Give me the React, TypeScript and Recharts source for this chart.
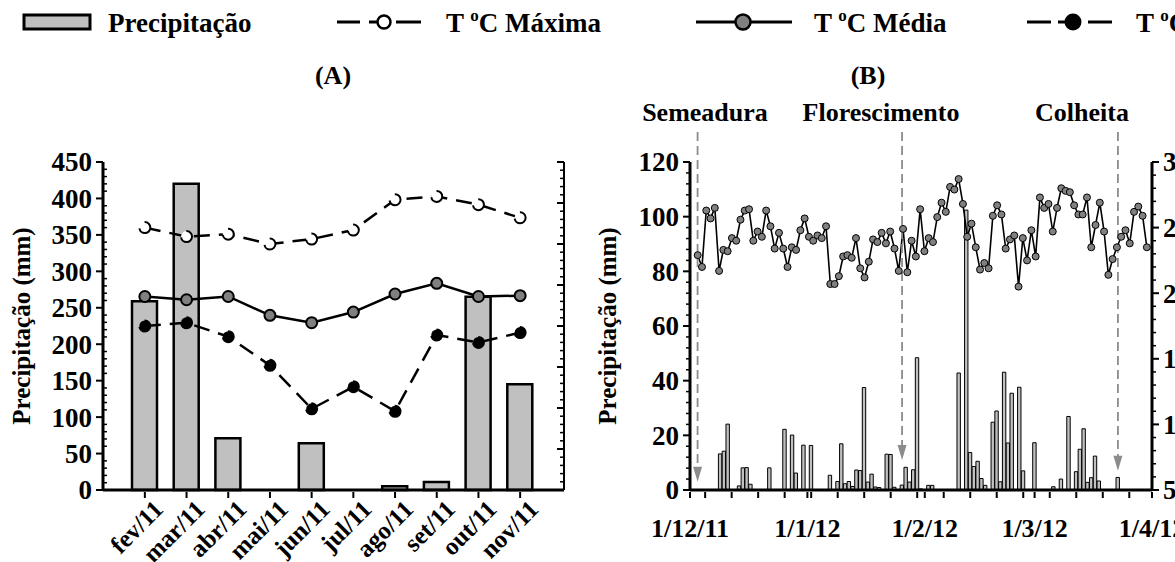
import React from 'react';
import { Bar, ComposedChart, Line, ReferenceLine, XAxis, YAxis } from 'recharts';

const FONT = '"Liberation Serif", "Times New Roman", serif';

// (A) dados mensais
const meses = ['fev/11', 'mar/11', 'abr/11', 'mai/11', 'jun/11', 'jul/11', 'ago/11', 'set/11', 'out/11', 'nov/11'];
const chuvaMensal = [259, 420, 71, 0, 64, 0, 5, 11, 265, 145];
const tMaxMensal = [32.0, 30.9, 31.2, 30.0, 30.6, 31.7, 35.4, 35.8, 34.8, 33.2];
const tMedMensal = [23.6, 23.2, 23.6, 21.3, 20.4, 21.7, 23.9, 25.2, 23.6, 23.7];
const tMinMensal = [20.0, 20.4, 18.7, 15.2, 9.9, 12.6, 9.6, 18.9, 18.0, 19.2];
const ticksChuvaA = [0, 50, 100, 150, 200, 250, 300, 350, 400, 450];

// (B) chuva diaria, dia 0 = 1/12/11
const diasRotulo = [0, 31, 62, 91, 122];
const rotulosDatas = ['1/12/11', '1/1/12', '1/2/12', '1/3/12', '1/4/12'];
const ticksChuvaB = [0, 20, 40, 60, 80, 100, 120];
const ticksTempB = [5, 10, 15, 20, 25, 30];

const diasChuva = [8, 9, 10, 13, 14, 15, 16, 21, 25, 27, 28, 30, 32, 37, 39, 40, 41, 42, 43, 44, 45, 46, 47, 48, 49, 50, 52, 53, 54, 56,
  57, 58, 59, 60, 61, 63, 64, 71, 73, 74, 75, 76, 77, 78, 80, 81, 82, 83, 84, 85, 87, 88, 91, 96, 98, 100, 102, 103, 104, 105,
  106, 107, 108, 113];
const chuvaDiaria = [13.2, 14.2, 24.1, 1.5, 8.1, 8.2, 2.1, 8.1, 22.2, 20.1, 6.2, 16.4, 16.3, 5.4, 3.1, 16.9, 2.3, 3.1, 1.3, 7.3,
  7.1, 37.5, 2.9, 5.8, 1.1, 0.9, 13.1, 13.0, 1.0, 1.8, 8.3, 2.9, 7.4, 48.4, 0.4, 1.7, 1.7, 42.8, 102.4, 13.7,
  8.6, 10.5, 4.2, 1.7, 24.8, 28.9, 3.0, 43.1, 17.2, 35.4, 37.6, 7.0, 17.3, 1.2, 4.0, 26.9, 6.7, 14.9, 22.4, 2.8,
  4.5, 12.4, 3.3, 4.6];

// temperatura media, serie no eixo secundario (pontos igualmente espacados)
const tMedDiaria = [22.9, 22.0, 26.3, 25.7, 26.5, 21.7, 23.3, 23.2, 24.2, 24.0,
  25.6, 26.3, 26.4, 24.0, 24.7, 24.3, 26.3, 25.1, 23.4, 24.6,
  23.4, 22.0, 23.5, 23.3, 24.8, 25.7, 24.3, 24.0, 24.4, 24.2,
  25.1, 20.7, 20.7, 21.3, 22.8, 22.9, 22.7, 24.2, 21.9, 21.2,
  22.4, 24.1, 23.9, 24.6, 23.8, 24.7, 23.4, 21.7, 24.9, 21.6,
  24.0, 22.8, 26.4, 23.2, 24.2, 23.9, 25.8, 26.9, 26.2, 28.1,
  27.9, 28.7, 26.8, 24.3, 25.3, 23.5, 21.8, 22.3, 21.9, 25.9,
  26.7, 26.0, 23.4, 24.1, 24.4, 20.5, 24.2, 22.5, 24.8, 22.8,
  27.3, 26.5, 26.8, 24.7, 26.5, 28.0, 27.8, 27.7, 26.7, 26.0,
  26.0, 27.3, 23.5, 25.2, 26.9, 24.7, 21.4, 22.6, 23.5, 24.3,
  24.8, 23.8, 26.2, 26.6, 25.9, 23.5];

const eventos = ['Semeadura', 'Florescimento', 'Colheita'];
const diasEventos = [2, 56, 113];
const pontaSeta = [3, 11, 7]; // mm onde a seta termina

const range = (a: number, b: number, s: number) => {
  const out: number[] = [];
  for (let v = a; v <= b + 1e-9; v += s) out.push(v);
  return out;
};

const txt = { fontFamily: FONT, fontWeight: 700, fill: '#000' } as const;

function TickY(props: any) {
  const { x, y, payload, majors, side, label, inner } = props;
  const v = payload.value;
  const major = majors.includes(v);
  const dir = side === 'left' ? -1 : 1;
  const len = major ? 7 : 4;
  const d = major ? dir : inner ? -dir : dir;
  return (
    <g>
      <line x1={x} x2={x + d * len} y1={y} y2={y} stroke="#000" strokeWidth={major ? 2 : 1.5} />
      {major && label && (
        <text x={x + dir * 11} y={y} dy="0.35em" textAnchor={side === 'left' ? 'end' : 'start'} fontSize={27} {...txt}>
          {v}
        </text>
      )}
    </g>
  );
}

function TickMes(props: any) {
  const { x, y, payload } = props;
  return (
    <g>
      <line x1={x} x2={x} y1={y} y2={y + 6} stroke="#000" strokeWidth={2} />
      <text transform={`translate(${x + 7},${y + 6}) rotate(-45)`} dy="0.72em" textAnchor="end" fontSize={25} {...txt}>
        {payload.value}
      </text>
    </g>
  );
}

function TickDia(props: any) {
  const { x, y, payload } = props;
  const i = diasRotulo.indexOf(payload.value);
  return (
    <g>
      <line x1={x} x2={x} y1={y} y2={y + 6} stroke="#000" strokeWidth={2} />
      {i >= 0 && (
        <text x={x} y={y + 45} textAnchor="middle" fontSize={26} {...txt}>
          {rotulosDatas[i]}
        </text>
      )}
    </g>
  );
}

function SetaTracejada(props: any) {
  const { x1, y1, x2, y2 } = props;
  return (
    <g>
      <line x1={x1} y1={y1} x2={x2} y2={y2 - 12} stroke="#8c8c8c" strokeWidth={1.8} strokeDasharray="9 5" />
      <path d={`M${x2 - 4.5},${y2 - 15} L${x2 + 4.5},${y2 - 15} L${x2},${y2} Z`} fill="#8c8c8c" />
    </g>
  );
}

const tituloY: React.CSSProperties = {
  position: 'absolute',
  transform: 'translate(-50%, -50%) rotate(-90deg)',
  whiteSpace: 'nowrap',
  fontSize: 25,
};

export default function App() {
  const dadosA = meses.map((mes, i) => ({
    mes,
    chuva: chuvaMensal[i],
    max: tMaxMensal[i],
    med: tMedMensal[i],
    min: tMinMensal[i],
  }));

  const dadosB: { dia: number; chuva: number | null }[] = [];
  for (let dia = 0; dia < 122; dia++) dadosB.push({ dia, chuva: null });
  diasChuva.forEach((d, i) => (dadosB[d].chuva = chuvaDiaria[i]));

  const serieTemp = tMedDiaria.map((temp, n) => ({ n, temp }));

  const semanas = range(4, 116, 7);
  const ticksDias = [...diasRotulo, ...semanas].sort((a, b) => a - b);

  return (
    <div
      style={{
        position: 'absolute',
        left: 0,
        top: 0,
        width: 1175,
        height: 562,
        overflow: 'hidden',
        background: '#fff',
        fontFamily: FONT,
        fontWeight: 700,
      }}
    >
      {/* legenda */}
      <svg width={1175} height={60} style={{ position: 'absolute', left: 0, top: 0 }}>
        <rect x={24} y={15} width={66} height={14} fill="#c0c0c0" stroke="#000" strokeWidth={3} />
        <text x={108} y={32} fontSize={27} {...txt}>Precipitação</text>

        <line x1={337} x2={360} y1={22} y2={22} stroke="#000" strokeWidth={3} />
        <line x1={369} x2={377} y1={22} y2={22} stroke="#000" strokeWidth={3} />
        <line x1={396} x2={421} y1={22} y2={22} stroke="#000" strokeWidth={3} />
        <circle cx={384} cy={22} r={6.5} fill="#fff" stroke="#000" strokeWidth={2.5} />
        <text x={446} y={32} fontSize={27} {...txt}>
          {'T '}<tspan fontSize={17} dy={-11}>o</tspan><tspan dy={11}>C Máxima</tspan>
        </text>

        <line x1={696} x2={792} y1={22} y2={22} stroke="#000" strokeWidth={3} />
        <circle cx={743} cy={22} r={7.5} fill="#808080" stroke="#000" strokeWidth={2.5} />
        <text x={814} y={32} fontSize={27} {...txt}>
          {'T '}<tspan fontSize={17} dy={-11}>o</tspan><tspan dy={11}>C Média</tspan>
        </text>

        <line x1={1027} x2={1051} y1={22} y2={22} stroke="#000" strokeWidth={3} />
        <line x1={1058} x2={1066} y1={22} y2={22} stroke="#000" strokeWidth={3} />
        <line x1={1088} x2={1112} y1={22} y2={22} stroke="#000" strokeWidth={3} />
        <circle cx={1073} cy={22} r={7.5} fill="#000" stroke="#000" strokeWidth={2} />
        <text x={1136} y={32} fontSize={27} {...txt}>
          {'T '}<tspan fontSize={17} dy={-11}>o</tspan><tspan dy={11}>C Mínima</tspan>
        </text>
      </svg>

      <div style={{ position: 'absolute', left: 333, top: 76, transform: 'translate(-50%, -50%)', fontSize: 26 }}>(A)</div>
      <div style={{ position: 'absolute', left: 868, top: 76, transform: 'translate(-50%, -50%)', fontSize: 26 }}>(B)</div>

      {/* (A) */}
      <div style={{ position: 'absolute', left: 0, top: 0 }}>
        <ComposedChart width={600} height={562} data={dadosA} margin={{ top: 162, right: 26, bottom: 0, left: 43 }}>
          <XAxis
            dataKey="mes"
            height={72}
            interval={0}
            padding={{ left: 21, right: 23 }}
            tickSize={0}
            tickLine={false}
            tick={(p: any) => <TickMes {...p} />}
            axisLine={{ stroke: '#000', strokeWidth: 3 }}
          />
          <YAxis
            yAxisId="p"
            domain={[0, 450]}
            ticks={range(0, 450, 10)}
            interval={0}
            width={60}
            tickSize={0}
            tickMargin={0}
            tickLine={false}
            tick={(p: any) => <TickY {...p} majors={ticksChuvaA} side="left" label inner />}
            axisLine={{ stroke: '#000', strokeWidth: 3 }}
          />
          <YAxis
            yAxisId="t"
            orientation="right"
            domain={[0, 40]}
            ticks={range(0, 40, 1)}
            interval={0}
            width={10}
            tickSize={0}
            tickMargin={0}
            tickLine={false}
            tick={(p: any) => <TickY {...p} majors={range(0, 40, 5)} side="left" label={false} />}
            axisLine={{ stroke: '#000', strokeWidth: 2 }}
          />
          <Bar yAxisId="p" dataKey="chuva" barSize={25} fill="#c0c0c0" stroke="#000" strokeWidth={2.5} isAnimationActive={false} />
          <Line
            yAxisId="t"
            dataKey="max"
            stroke="#000"
            strokeWidth={2.5}
            strokeDasharray="16 9"
            dot={{ r: 5.5, fill: '#fff', stroke: '#000', strokeWidth: 2 }}
            isAnimationActive={false}
          />
          <Line
            yAxisId="t"
            dataKey="med"
            stroke="#000"
            strokeWidth={2.5}
            dot={{ r: 5.5, fill: '#808080', stroke: '#000', strokeWidth: 2 }}
            isAnimationActive={false}
          />
          <Line
            yAxisId="t"
            dataKey="min"
            stroke="#000"
            strokeWidth={2.5}
            strokeDasharray="16 9"
            dot={{ r: 5.5, fill: '#000', stroke: '#000', strokeWidth: 2 }}
            isAnimationActive={false}
          />
        </ComposedChart>
      </div>
      <div style={{ ...tituloY, left: 22, top: 326 }}>Precipitação (mm)</div>

      {/* (B) */}
      <div style={{ position: 'absolute', left: 600, top: 0 }}>
        <ComposedChart width={620} height={562} data={dadosB} margin={{ top: 162, right: 18, bottom: 0, left: 30 }}>
          <XAxis
            type="number"
            dataKey="dia"
            domain={[0, 122]}
            ticks={ticksDias}
            interval={0}
            height={72}
            tickSize={0}
            tickLine={false}
            tick={(p: any) => <TickDia {...p} />}
            axisLine={{ stroke: '#000', strokeWidth: 3 }}
          />
          <XAxis xAxisId="seq" type="number" dataKey="n" domain={[-1.8, 106.2]} allowDataOverflow hide />
          <YAxis
            yAxisId="p"
            domain={[0, 120]}
            ticks={range(0, 120, 4)}
            interval={0}
            width={60}
            tickSize={0}
            tickMargin={0}
            tickLine={false}
            tick={(p: any) => <TickY {...p} majors={ticksChuvaB} side="left" label />}
            axisLine={{ stroke: '#000', strokeWidth: 3 }}
          />
          <YAxis
            yAxisId="t"
            orientation="right"
            domain={[5, 30]}
            ticks={range(5, 30, 1)}
            interval={0}
            width={50}
            tickSize={0}
            tickMargin={0}
            tickLine={false}
            tick={(p: any) => <TickY {...p} majors={ticksTempB} side="right" label />}
            axisLine={{ stroke: '#000', strokeWidth: 3 }}
          />
          <Bar yAxisId="p" dataKey="chuva" barSize={3.4} fill="#c0c0c0" stroke="#000" strokeWidth={1} isAnimationActive={false} />
          <Line
            data={serieTemp}
            xAxisId="seq"
            yAxisId="t"
            dataKey="temp"
            stroke="#000"
            strokeWidth={1.6}
            dot={{ r: 3.5, fill: '#808080', stroke: '#000', strokeWidth: 1 }}
            isAnimationActive={false}
          />
          {eventos.map((nome, i) => (
            <ReferenceLine
              key={nome}
              yAxisId="p"
              ifOverflow="visible"
              segment={[
                { x: diasEventos[i], y: 131 },
                { x: diasEventos[i], y: pontaSeta[i] },
              ]}
              shape={(p: any) => <SetaTracejada {...p} />}
            />
          ))}
        </ComposedChart>
      </div>
      <div style={{ ...tituloY, left: 608, top: 326 }}>Precipitação (mm)</div>

      <div style={{ position: 'absolute', left: 705, top: 113, transform: 'translate(-50%, -50%)', fontSize: 26, whiteSpace: 'nowrap' }}>Semeadura</div>
      <div style={{ position: 'absolute', left: 881, top: 113, transform: 'translate(-50%, -50%)', fontSize: 26, whiteSpace: 'nowrap' }}>Florescimento</div>
      <div style={{ position: 'absolute', left: 1082, top: 113, transform: 'translate(-50%, -50%)', fontSize: 26, whiteSpace: 'nowrap' }}>Colheita</div>
    </div>
  );
}
